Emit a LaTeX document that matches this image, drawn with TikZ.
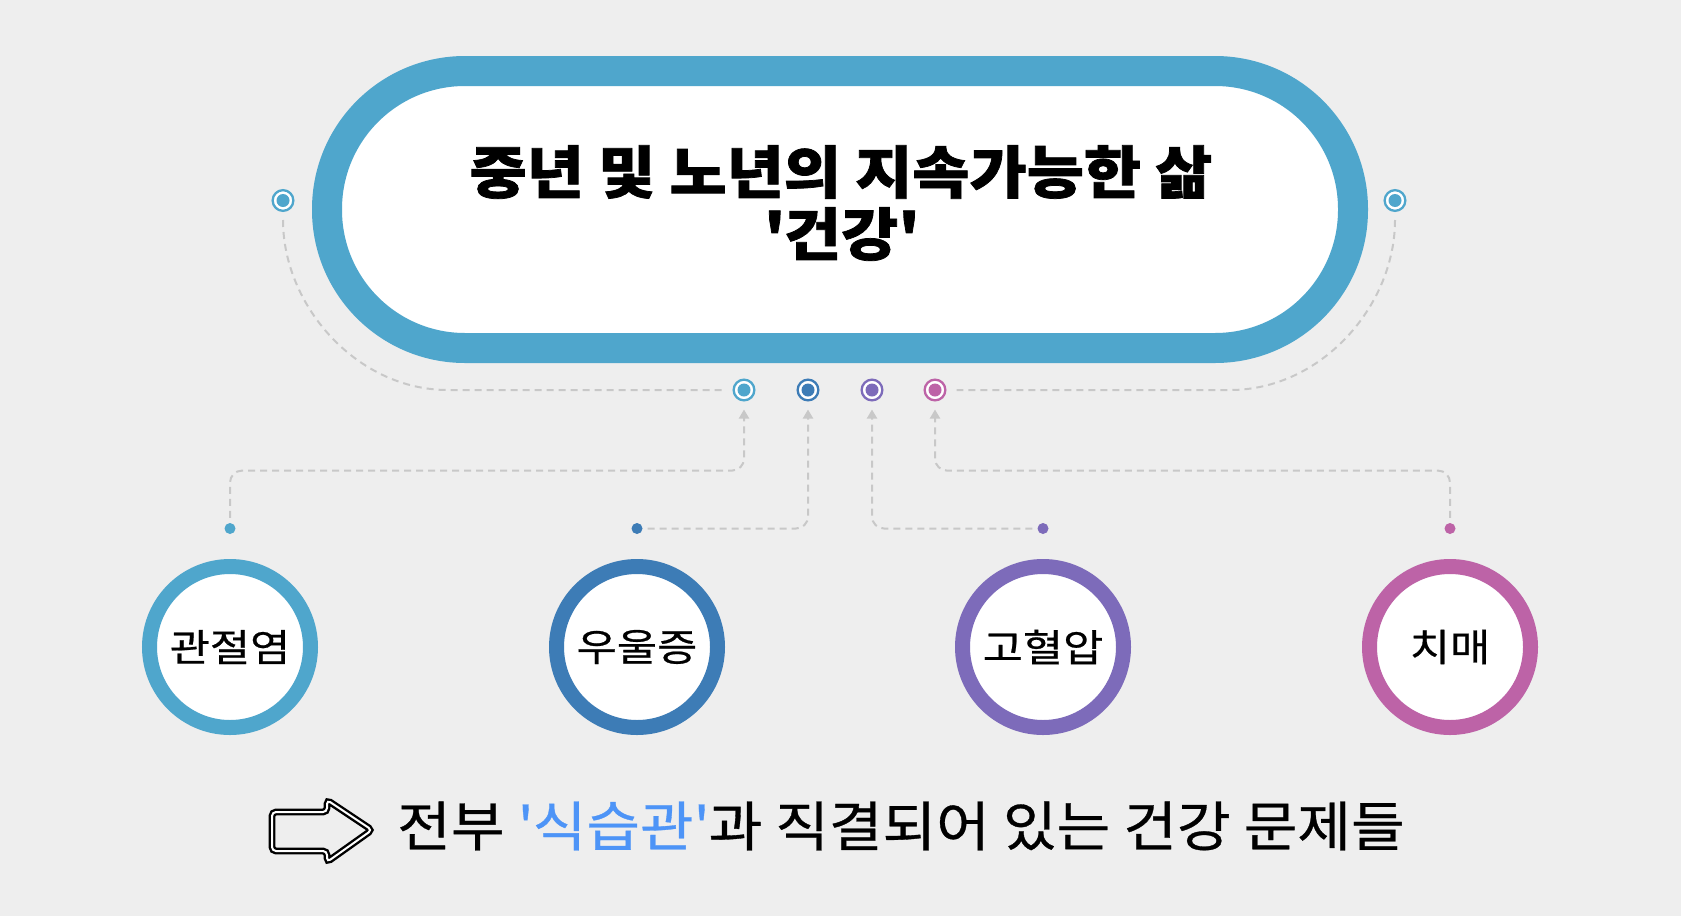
\documentclass[tikz,border=0pt]{standalone}
\usepackage{fontspec}
\setmainfont{Noto Sans CJK KR}
\newfontfamily\titlefont[FakeStretch=1.09,BoldFeatures={FakeBold=1.3}]{Noto Sans CJK KR}
\newfontfamily\labelfont[FakeStretch=1.15,FakeBold=0.6]{Noto Sans CJK KR}
\newfontfamily\bottomfont[FakeStretch=1.08,FakeBold=0.6]{Noto Sans CJK KR}
\usetikzlibrary{arrows.meta,calc}
\definecolor{bgc}{HTML}{EEEEEE}
\definecolor{cA}{HTML}{4FA6CC}
\definecolor{cB}{HTML}{3D7CB6}
\definecolor{cC}{HTML}{7D6BBA}
\definecolor{cD}{HTML}{BD63A7}
\definecolor{dashgray}{HTML}{C8C8C8}
\definecolor{txtblue}{HTML}{4D94F7}
\newcommand{\sq}{\textquotesingle}
\begin{document}
\begin{tikzpicture}[x=1pt,y=-1pt,
  stadium/.style={rectangle,draw=cA,line width=30,fill=white,minimum width=1026,minimum height=277,rounded corners=138,inner sep=0},
  ringdot/.style={circle,draw=#1,line width=2.3,fill=white,minimum size=20.7,inner sep=0,
     path picture={\fill[#1] (path picture bounding box.center) circle (6.5);}},
  smalldot/.style={circle,fill=#1,minimum size=11,inner sep=0},
  bigc/.style={circle,draw=#1,line width=15,fill=white,minimum size=161,inner sep=0,font=\labelfont\fontsize{38}{44}\selectfont},
  dashline/.style={draw=dashgray,line width=2,dash pattern=on 7 off 5},
  conn/.style={dashline,rounded corners=12,-{Triangle[length=9,width=10]},shorten >=8,shorten <=5}
]
\fill[bgc] (0,0) rectangle (1681,916);
\useasboundingbox (0,0) rectangle (1681,916);

% title
\node[stadium] (title) at (840,209.5) {};
\node[font=\titlefont\fontsize{57}{62}\selectfont\bfseries,align=center] (titletext) at (841,203) {중년 및 노년의 지속가능한 삶\\\sq 건강\sq};

% side dots
\node[ringdot=cA] (dL) at (283,200.5) {};
\node[ringdot=cA] (dR) at (1395,200.5) {};

% row dots
\node[ringdot=cA] (d1) at (744,390) {};
\node[ringdot=cB] (d2) at (808,390) {};
\node[ringdot=cC] (d3) at (872,390) {};
\node[ringdot=cD] (d4) at (935,390) {};

% curves
\coordinate (cL) at (448,390);
\coordinate (cR) at (1230,390);
\draw[dashline,shorten <=8,shorten >=10] (dL.south) .. controls +(0,94) and +(-91,0) .. (cL) -- (d1.west);
\draw[dashline,shorten <=8,shorten >=10] (dR.south) .. controls +(0,94) and +(91,0) .. (cR) -- (d4.east);

% small dots
\node[smalldot=cA] (s1) at (230,528.5) {};
\node[smalldot=cB] (s2) at (637,528.5) {};
\node[smalldot=cC] (s3) at (1043,528.5) {};
\node[smalldot=cD] (s4) at (1450,528.5) {};

\coordinate (k1) at (744,470.6);
\coordinate (k4) at (935,470.6);
\draw[conn] (s1.north) |- (k1) -- (d1.south);
\draw[conn] (s2.east) -| (d2.south);
\draw[conn] (s3.west) -| (d3.south);
\draw[conn] (s4.north) |- (k4) -- (d4.south);

% circles
\node[bigc=cA] (n1) at (230,647) {관절염};
\node[bigc=cB] (n2) at (637,647) {우울증};
\node[bigc=cC] (n3) at (1043,647) {고혈압};
\node[bigc=cD] (n4) at (1450,647) {치매};

% arrow icon
\draw[draw=black,double=white,line width=2.4,double distance=2,rounded corners=4]
  (272,812) -- (327,812) -- (327,800) -- (372,830) -- (327,862) -- (327,851) -- (272,851) -- cycle;

% bottom text
\node[font=\bottomfont\fontsize{54}{60}\selectfont] (bottom) at (901,826) {전부 {\color{txtblue}\sq 식습관\sq}과 직결되어 있는 건강 문제들};
\end{tikzpicture}
\end{document}
